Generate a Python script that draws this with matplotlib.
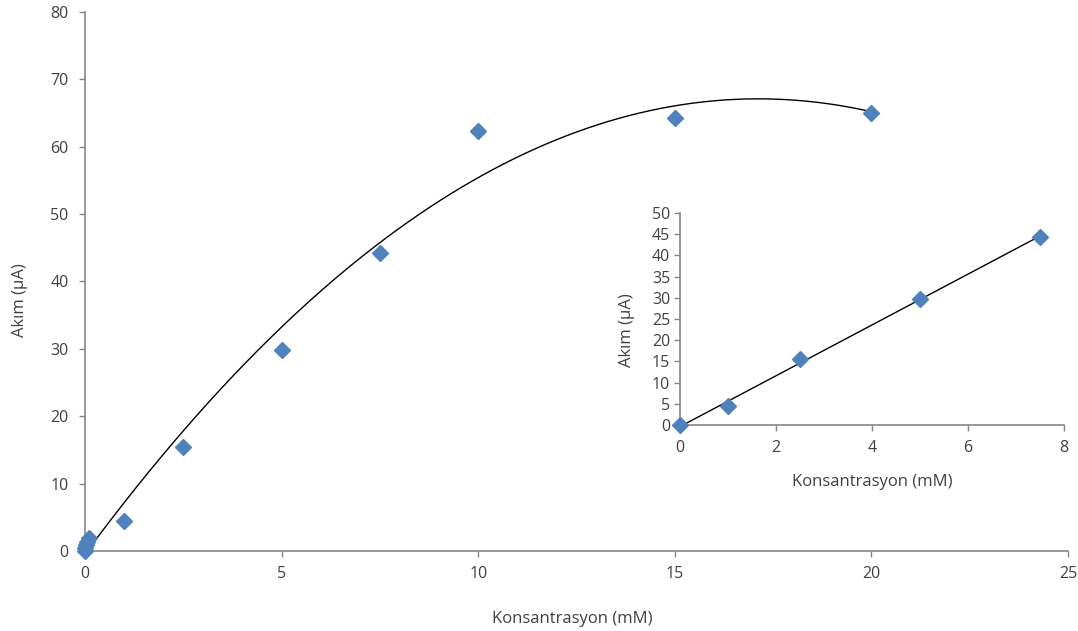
import numpy as np
import matplotlib
matplotlib.use("Agg")
import matplotlib.pyplot as plt

plt.rcParams['font.family'] = ['Open Sans', 'DejaVu Sans']

# Main data
conc = [0, 0.01, 0.025, 0.05, 0.1, 1, 2.5, 5, 7.5, 10, 15, 20]
current = [0, 0.4, 0.9, 1.3, 1.9, 4.4, 15.5, 29.8, 44.3, 62.3, 64.2, 65.0]

# Inset data
conc_in = [0, 1, 2.5, 5, 7.5]
current_in = [0, 4.4, 15.5, 29.8, 44.3]

main_xticks = [0, 5, 10, 15, 20, 25]
main_yticks = [0, 10, 20, 30, 40, 50, 60, 70, 80]
in_xticks = [0, 2, 4, 6, 8]
in_yticks = [0, 5, 10, 15, 20, 25, 30, 35, 40, 45, 50]

xlabel = "Konsantrasyon (mM)"
ylabel = "Akım (µA)"

blue = '#4F81BD'
spine_c = '#868686'
text_c = '#404040'

fig = plt.figure(figsize=(10.78, 6.31), dpi=100)
ax = fig.add_axes([0.0789, 0.1268, 0.9118, 0.8542])

def style(a, fs):
    for s in ['top', 'right']:
        a.spines[s].set_visible(False)
    for s in ['left', 'bottom']:
        a.spines[s].set_color(spine_c)
        a.spines[s].set_linewidth(1.2)
    a.tick_params(axis='both', colors=spine_c, labelcolor=text_c, labelsize=fs,
                  length=4, width=1, direction='out')

# main
coef = np.polyfit(conc, current, 2)
xs = np.linspace(min(conc), max(conc), 300)
ax.plot(xs, np.polyval(coef, xs), color='black', lw=1.0, zorder=2)
ax.plot(conc, current, linestyle='none', marker='D', ms=8, color=blue,
        markeredgecolor=blue, zorder=3, clip_on=False)
ax.set_xlim(0, 25)
ax.set_ylim(0, 80)
ax.set_xticks(main_xticks)
ax.set_yticks(main_yticks)
style(ax, 11.5)
ax.tick_params(axis='x', pad=7)
ax.tick_params(axis='y', pad=8)
ax.set_xlabel(xlabel, fontsize=12, color=text_c)
ax.set_ylabel(ylabel, fontsize=12, color=text_c)
ax.xaxis.set_label_coords(0.496, -0.111)
ax.yaxis.set_label_coords(-0.058, 0.466)

# inset
axi = fig.add_axes([0.6308, 0.3265, 0.3562, 0.3359])
axi.patch.set_facecolor('white')
coef_in = np.polyfit(conc_in, current_in, 1)
xs_in = np.linspace(min(conc_in), max(conc_in), 50)
axi.plot(xs_in, np.polyval(coef_in, xs_in), color='black', lw=1.0, zorder=2)
axi.plot(conc_in, current_in, linestyle='none', marker='D', ms=8, color=blue,
         markeredgecolor=blue, zorder=3, clip_on=False)
axi.set_xlim(0, 8)
axi.set_ylim(0, 50)
axi.set_xticks(in_xticks)
axi.set_yticks(in_yticks)
style(axi, 11.5)
axi.tick_params(axis='x', pad=7)
axi.tick_params(axis='y', pad=3)
axi.set_xlabel(xlabel, fontsize=12, color=text_c)
axi.set_ylabel(ylabel, fontsize=12, color=text_c)
axi.xaxis.set_label_coords(0.5, -0.232)
axi.yaxis.set_label_coords(-0.118, 0.448)

fig.savefig('out.png', dpi=100)
